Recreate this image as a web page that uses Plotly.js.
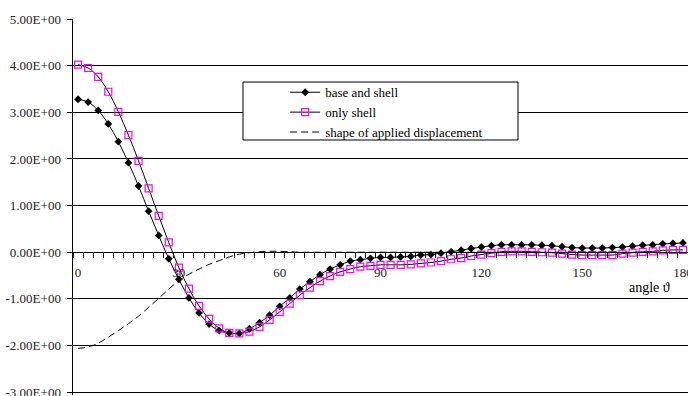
<!DOCTYPE html>
<html>
<head>
<meta charset="utf-8">
<script src="https://cdn.plot.ly/plotly-3.0.1.min.js"></script>
<style>html,body{margin:0;padding:0;background:#fff;}#chart{width:688px;height:396px;}</style>
</head>
<body>
<div id="chart"></div>
<script>
const angles = [0,3,6,9,12,15,18,21,24,27,30,33,36,39,42,45,48,51,54,57,60,63,66,69,72,75,78,81,84,87,90,93,96,99,102,105,108,111,114,117,120,123,126,129,132,135,138,141,144,147,150,153,156,159,162,165,168,171,174,177,180];
const baseAndShell = [3.28,3.22,3.04,2.75,2.37,1.92,1.42,0.88,0.36,-0.14,-0.58,-0.98,-1.30,-1.54,-1.68,-1.73,-1.74,-1.64,-1.51,-1.35,-1.16,-0.98,-0.79,-0.63,-0.48,-0.36,-0.27,-0.19,-0.16,-0.13,-0.11,-0.11,-0.10,-0.09,-0.06,-0.05,-0.02,0.01,0.045,0.08,0.11,0.14,0.16,0.16,0.16,0.16,0.15,0.14,0.12,0.10,0.09,0.09,0.09,0.10,0.11,0.13,0.15,0.16,0.18,0.19,0.20];
const onlyShell = [4.02,3.95,3.76,3.44,3.01,2.51,1.96,1.37,0.78,0.21,-0.33,-0.78,-1.15,-1.43,-1.63,-1.73,-1.74,-1.70,-1.60,-1.45,-1.28,-1.10,-0.92,-0.76,-0.62,-0.51,-0.42,-0.36,-0.31,-0.29,-0.27,-0.27,-0.27,-0.26,-0.24,-0.22,-0.19,-0.15,-0.125,-0.08,-0.05,-0.02,0.01,0.02,0.02,0.01,0.0,-0.01,-0.03,-0.05,-0.06,-0.06,-0.06,-0.06,-0.03,-0.01,0.01,0.02,0.04,0.05,0.05];
const appliedShape = [-2.06,-2.03,-1.95,-1.82,-1.68,-1.53,-1.37,-1.18,-0.99,-0.79,-0.61,-0.47,-0.36,-0.26,-0.18,-0.10,-0.04,-0.01,0.01,0.02,0.02,0.01,0,0,0,0,0,0,0,0,0,0,0,0,0,0,0,0,0,0,0,0,0,0,0,0,0,0,0,0,0,0,0,0,0,0,0,0,0,0,0];
const seriesNames = ["base and shell","only shell","shape of applied displacement"];
const xTickVals = [0,30,60,90,120,150,180];
const xTickText = ["0","30","60","90","120","150","180"];
const yTickVals = [-3,-2,-1,0,1,2,3,4,5];
const yTickText = ["-3.00E+00","-2.00E+00","-1.00E+00","0.00E+00","1.00E+00","2.00E+00","3.00E+00","4.00E+00","5.00E+00"];
const xTitle = "angle \u03D1";

const font = "Liberation Serif";
const traces = [
  {x: angles, y: baseAndShell, name: seriesNames[0], type: "scatter", mode: "lines+markers",
   line: {color: "#000", width: 1, shape: "spline"},
   marker: {symbol: "diamond", size: 6, color: "#000"}},
  {x: angles, y: onlyShell, name: seriesNames[1], type: "scatter", mode: "lines+markers",
   line: {color: "#000", width: 1, shape: "spline"},
   marker: {symbol: "square-open", size: 7, color: "#FF00FF", line: {width: 1.2, color: "#FF00FF"}}},
  {x: angles, y: appliedShape, name: seriesNames[2], type: "scatter", mode: "lines",
   line: {color: "#000", width: 1, dash: "7px,4px", shape: "spline"}}
];
const layout = {
  width: 688, height: 396,
  margin: {l: 73, r: 0, t: 19, b: 1, pad: 0},
  paper_bgcolor: "#fff", plot_bgcolor: "#fff",
  font: {family: font, size: 12, color: "#000"},
  showlegend: true,
  legend: {x: 0.345, y: 0.845, xanchor: "left", yanchor: "top", bgcolor: "rgba(0,0,0,0)",
           borderwidth: 0, font: {family: font, size: 13, color: "#000"}, tracegroupgap: 0, itemwidth: 30},
  xaxis: {range: [-1.5, 181.5], anchor: "free", position: 0.3797, showgrid: false, zeroline: false,
          showline: true, linecolor: "#000", linewidth: 1, ticklabeloverflow: "allow",
          tickmode: "array", tickvals: xTickVals, ticktext: xTickText, ticks: "", ticklabelstandoff: 8,
          minor: {tick0: -1.5, dtick: 3, ticks: "outside", ticklen: 5, tickcolor: "#000", showgrid: false},
          tickfont: {family: font, size: 13, color: "#222"}},
  yaxis: {range: [-3.06, 5], showgrid: true, gridcolor: "#000", gridwidth: 1, zeroline: false,
          showline: true, linecolor: "#000", linewidth: 1.5, ticklabeloverflow: "allow",
          tickmode: "array", tickvals: yTickVals, ticktext: yTickText, ticks: "outside", ticklen: 5,
          tickcolor: "#000", ticklabelstandoff: 3,
          tickfont: {family: font, size: 13, color: "#222"}},
  shapes: [{type: "rect", xref: "paper", yref: "paper", x0: 0.2764, x1: 0.7236, y0: 0.6782, y1: 0.8324,
            line: {color: "#000", width: 1}, fillcolor: "#fff", layer: "above"}],
  annotations: [{xref: "paper", yref: "paper", x: 0.937, y: 0.287, xanchor: "center", yanchor: "middle",
                 text: xTitle, showarrow: false, font: {family: font, size: 14, color: "#000"}}]
};
Plotly.newPlot("chart", traces, layout, {staticPlot: true, displayModeBar: false});
</script>
</body>
</html>
